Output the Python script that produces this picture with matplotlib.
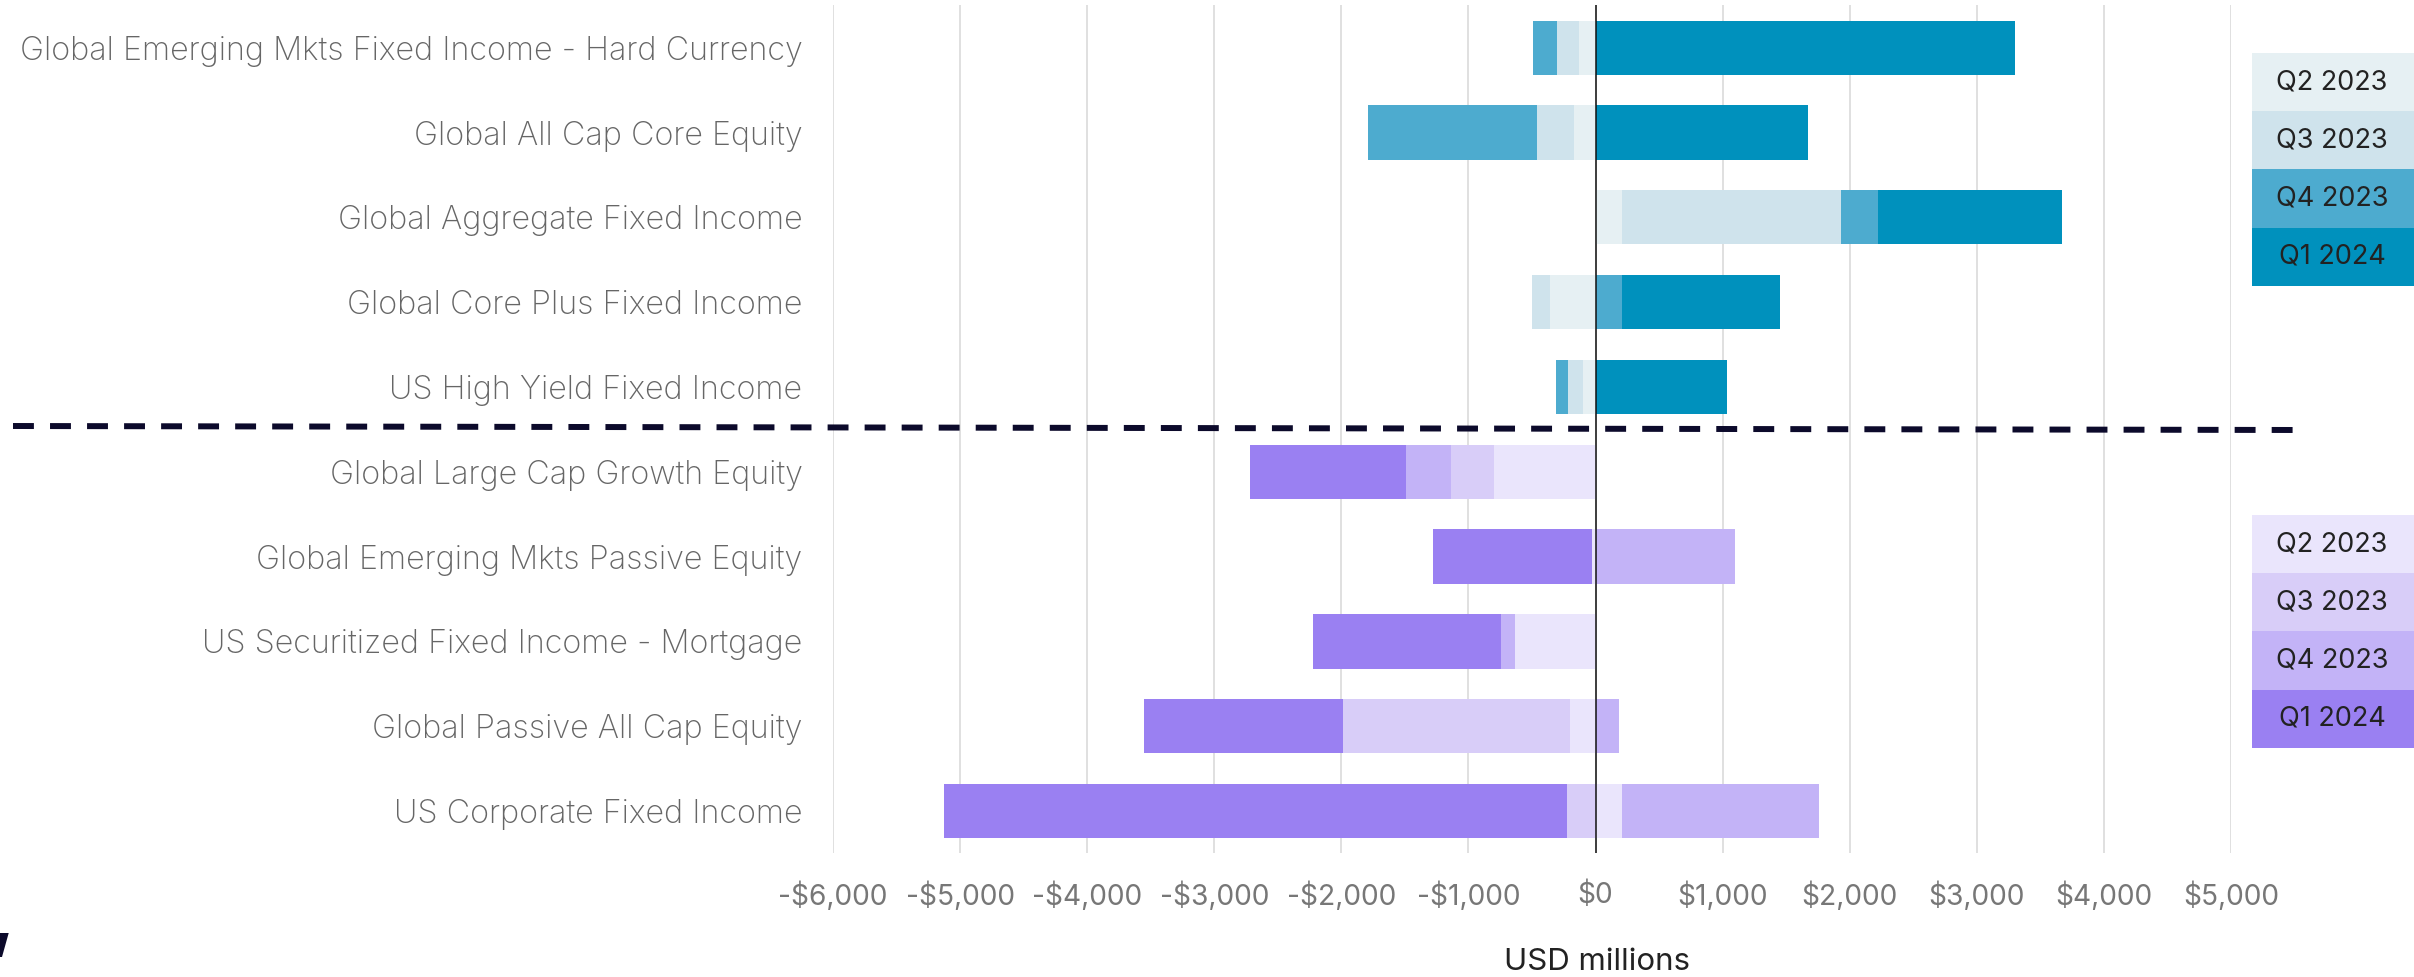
import matplotlib
matplotlib.use("Agg")
import matplotlib.pyplot as plt
from matplotlib.patches import Rectangle, Polygon
from matplotlib.ticker import FuncFormatter
import numpy as np

plt.rcParams['font.family'] = ['Inter', 'DejaVu Sans']

# fixed income block (top) and equity/credit block (bottom), USD millions
fi_names = ["Global Emerging Mkts Fixed Income - Hard Currency",
            "Global All Cap Core Equity",
            "Global Aggregate Fixed Income",
            "Global Core Plus Fixed Income",
            "US High Yield Fixed Income"]
fi_q2_2023 = [-131, -169, 208, -358, -102]
fi_q3_2023 = [-174, -291, 1724, -145, -116]
fi_q4_2023 = [-184, -1327, 291, 208, -97]
fi_q1_2024 = [3303, 1671, 1448, 1245, 1036]

eq_names = ["Global Large Cap Growth Equity",
            "Global Emerging Mkts Passive Equity",
            "US Securitized Fixed Income - Mortgage",
            "Global Passive All Cap Equity",
            "US Corporate Fixed Income"]
eq_q2_2023 = [-798, -25, -637, -204, 211]
eq_q3_2023 = [-343, 0, 0, -1780, -224]
eq_q4_2023 = [-349, 1101, -110, 181, 1549]
eq_q1_2024 = [-1226, -1257, -1477, -1569, -4903]

quarters = ["Q2 2023", "Q3 2023", "Q4 2023", "Q1 2024"]
blue_colors = ["#E6F0F3", "#CFE3EC", "#4DABCF", "#0091BD"]
purple_colors = ["#EAE5FC", "#D8CDF8", "#C3B3F7", "#9A80F2"]

xticks = np.arange(-6000, 6000, 1000)

W, H = 2414, 977
fig = plt.figure(figsize=(W / 100, H / 100), dpi=100)
ax = fig.add_axes([833 / W, 1 - 853.4 / H, (2231 - 833) / W, (853.4 - 5.3) / H])

names = fi_names + eq_names
series = [fi_q2_2023 + eq_q2_2023, fi_q3_2023 + eq_q3_2023,
          fi_q4_2023 + eq_q4_2023, fi_q1_2024 + eq_q1_2024]
y = np.arange(len(names))
pos_base = np.zeros(len(names))
neg_base = np.zeros(len(names))
for qi, vals in enumerate(series):
    vals = np.array(vals, dtype=float)
    cols = [blue_colors[qi]] * len(fi_names) + [purple_colors[qi]] * len(eq_names)
    left = np.where(vals >= 0, pos_base, neg_base)
    ax.barh(y, vals, left=left, height=0.64, color=cols, linewidth=0, zorder=3)
    pos_base = pos_base + np.clip(vals, 0, None)
    neg_base = neg_base + np.clip(vals, None, 0)

ax.set_xlim(-6000, 5000)
ax.set_ylim(len(names) - 0.5, -0.5)
ax.set_xticks(xticks)
ax.xaxis.set_major_formatter(FuncFormatter(
    lambda v, p: ("-$" if v < 0 else "$") + format(int(abs(v)), ",")))
ax.set_yticks(y)
ax.set_yticklabels(names, fontweight='light')
ax.tick_params(axis='y', length=0, pad=22, labelsize=23.3, labelcolor="#666666")
ax.tick_params(axis='x', length=0, pad=20, labelsize=20.3, labelcolor="#777777")
ax.grid(axis='x', color="#e0e0e0", linewidth=1.4, zorder=0)
ax.axvline(0, color="#111111", linewidth=1.1, zorder=4)
for s in ax.spines.values():
    s.set_visible(False)

# overlay in pixel coordinates for legends, divider and logo
ov = fig.add_axes([0, 0, 1, 1], zorder=5)
ov.set_xlim(0, W)
ov.set_ylim(H, 0)
ov.axis('off')
ov.patch.set_alpha(0)

ov.plot([13, 2299], [426, 430], color="#0c0a2b", linewidth=4.3,
        dashes=(3.5, 2.7), solid_capstyle='butt', dash_capstyle='butt')

row_h = 58.2
for top, colors in [(53, blue_colors), (515, purple_colors)]:
    for i, (q, c) in enumerate(zip(quarters, colors)):
        ov.add_patch(Rectangle((2252, top + i * row_h), 162, row_h,
                               facecolor=c, edgecolor='none'))
        ov.text(2332, top + (i + 0.5) * row_h, q, ha='center', va='center',
                fontsize=19.5, color="#222222")

ov.text(1597, 962, "USD millions", ha='center', va='center', fontsize=22.5, color="#222222")
ov.add_patch(Polygon([(0, 933), (8.7, 933), (2, 957), (0, 957)],
                     closed=True, facecolor="#0c0a2b", edgecolor='none'))

fig.savefig("out.png", dpi=100)
